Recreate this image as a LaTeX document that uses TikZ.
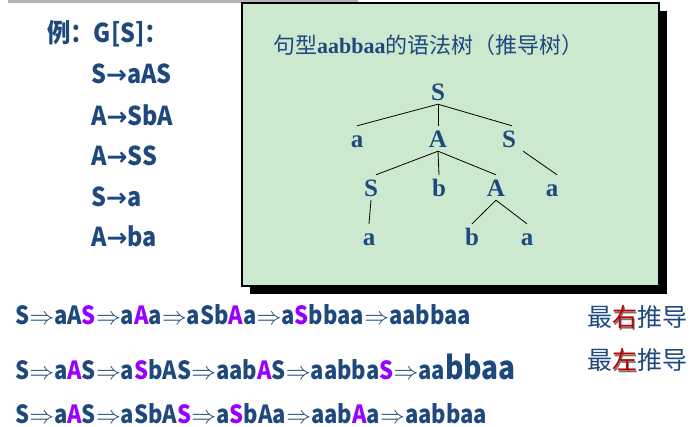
\documentclass[tikz,border=0pt]{standalone}
\usepackage{fontspec}
\setmainfont{Liberation Serif}
\newfontfamily\cjk{Noto Sans CJK SC}
\newfontfamily\cjkn{Noto Sans CJK SC}[FakeStretch=0.9]
\newfontfamily\cjkd{Noto Sans CJK SC}[FakeStretch=0.88]
\newfontfamily\djv{DejaVu Sans}
\usepackage{tikz}
\definecolor{tblue}{HTML}{1F497D}
\definecolor{hpurple}{HTML}{9900FF}
\definecolor{boxgreen}{HTML}{CCE8CF}
\definecolor{hred}{HTML}{C00000}
\newcommand{\hv}[1]{\textcolor{hpurple}{#1}}
\newcommand{\dto}{{\fontsize{24}{24}\selectfont\(\Rightarrow\)}}
\newcommand{\pto}{{\djv\bfseries\fontsize{25}{25}\selectfont →}}
\newcommand{\shadowed}[1]{\makebox[0pt][l]{\raisebox{-1.2pt}{\hspace{1.2pt}\textcolor{black!55}{#1}}}\textcolor{hred}{#1}}

\begin{document}
\begin{tikzpicture}[x=1pt, y=-1pt,
		tree/.style={font=\bfseries\fontsize{25}{25}\selectfont, text=tblue, text height=19pt, text depth=0pt, inner sep=3pt, anchor=base},
		edge/.style={line width=0.8pt},
		prod/.style={font=\cjkn\bfseries\fontsize{26}{26}\selectfont, text=tblue, inner sep=0pt, anchor=base west},
		deriv/.style={font=\cjkd\bfseries\fontsize{25}{25}\selectfont, text=tblue, inner sep=0pt, anchor=base west},
		kind/.style={font=\cjk\fontsize{25}{25}\selectfont, text=tblue, inner sep=0pt, text height=19pt, text depth=2pt, anchor=base west}]
			%%%%% START %%%%%
			\useasboundingbox (0,0) rectangle (696,427);
			\fill[black!30] (8,0) rectangle (358,3);
			
			% the grammar
			\node[prod] (head) at (47,43) {例：G[S]：};
			\node[prod] (p1) at (91,84) {S\pto aAS};
			\node[prod] (p2) at (91,126) {A\pto SbA};
			\node[prod] (p3) at (91,166) {A\pto SS};
			\node[prod] (p4) at (91,206.5) {S\pto a};
			\node[prod] (p5) at (91,246.5) {A\pto ba};
			
			% box with shadow
			\fill[black] (250,11) rectangle (667,294);
			\draw[fill=boxgreen, line width=1.2pt] (242,3) rectangle (659,286);
			\node[font=\cjk\fontsize{22}{22}\selectfont, text=tblue, anchor=base west, inner sep=0pt] (title) at (273,54) {句型{\rmfamily\bfseries aabbaa}的语法树（推导树）};
			
			% the tree
			\node[tree] (s0) at (438,101) {S};
			\node[tree] (a1) at (357,148) {a};
			\node[tree] (A1) at (438,148) {A};
			\node[tree] (S1) at (509,148) {S};
			\node[tree] (S2) at (371,197) {S};
			\node[tree] (b2) at (439,197) {b};
			\node[tree] (A2) at (496,197) {A};
			\node[tree] (a2) at (552,197) {a};
			\node[tree] (a3) at (369,246) {a};
			\node[tree] (b3) at (472,246) {b};
			\node[tree] (a4) at (527,246) {a};
			
			\draw[edge] (s0.south) -- (a1.north);
			\draw[edge] (s0.south) -- (A1.north);
			\draw[edge] (s0.south) -- ([xshift=3pt]S1.north);
			\draw[edge] (A1.south) -- ([xshift=5pt]S2.north);
			\draw[edge] (A1.south) -- (b2.north);
			\draw[edge] (A1.south) -- (A2.north);
			\draw[edge] ([xshift=4pt]S1.south east) -- ([xshift=5pt]a2.north);
			\draw[edge] (S2.south) -- (a3.north);
			\draw[edge] (A2.south) -- (b3.north);
			\draw[edge] (A2.south) -- (a4.north);
			
			% derivations
			\node[deriv] (d1) at (15,325) {S\dto aA\hv{S}\dto a\hv{A}a\dto aSb\hv{A}a\dto a\hv{S}bbaa\dto aabbaa};
			\node[deriv] (d2) at (15,380) {S\dto a\hv{A}S\dto a\hv{S}bAS\dto aab\hv{A}S\dto aabba\hv{S}\dto aa{\fontsize{32}{32}\selectfont bbaa}};
			\node[deriv] (d3) at (15,423) {S\dto a\hv{A}S\dto aSbA\hv{S}\dto a\hv{S}bAa\dto aab\hv{A}a\dto aabbaa};
			
			\node[kind] (right) at (587,327) {最\shadowed{右}推导};
			\node[kind] (left) at (587,370) {最\shadowed{左}推导};
			%%%%% END %%%%%
\end{tikzpicture}
\end{document}
